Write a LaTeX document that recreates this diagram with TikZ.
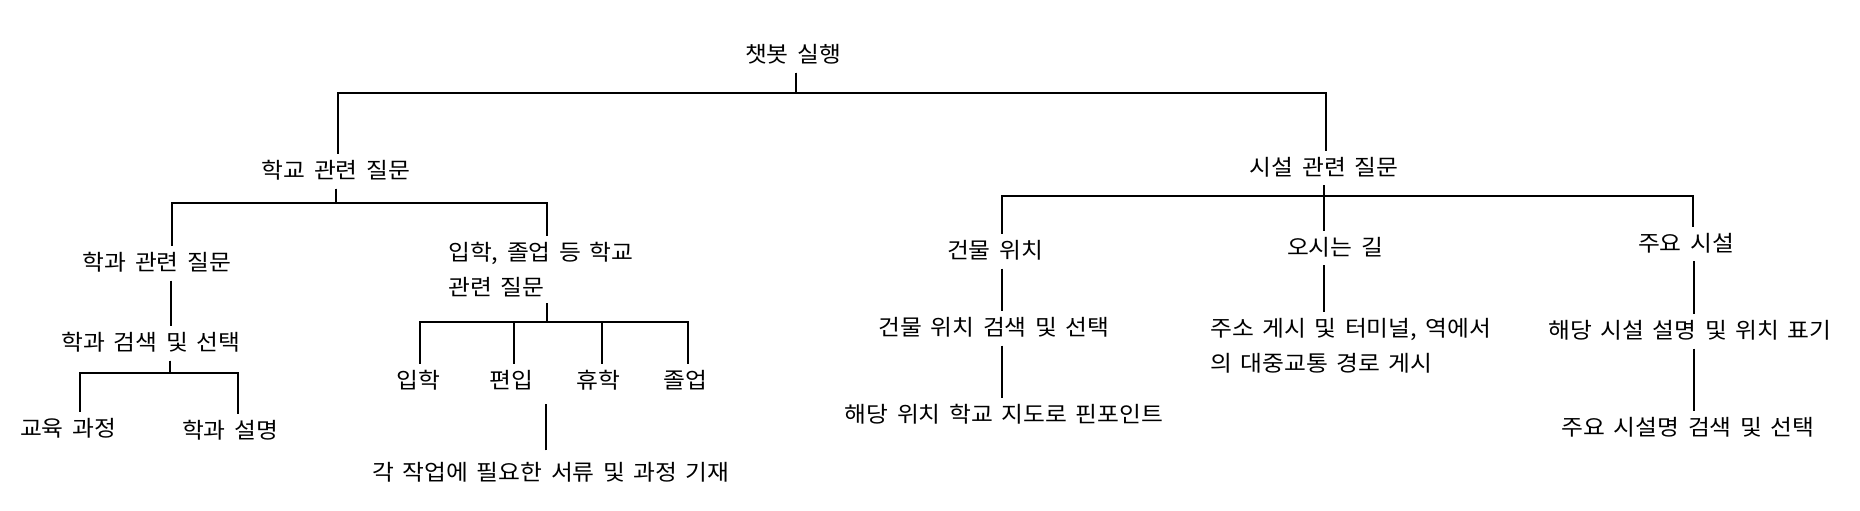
\documentclass[tikz,border=0pt]{standalone}
\usepackage{fontspec}
\setmainfont[WordSpace=1.6,FakeStretch=1.08]{Noto Sans CJK KR}
\begin{document}
\begin{tikzpicture}[x=1pt,y=-1pt,
    every node/.style={font=\fontsize{22}{35}\selectfont},
    item/.style={inner xsep=0pt,inner ysep=7pt,text height=17pt,text depth=3pt},
    multi/.style={align=left,inner xsep=0pt,inner ysep=6pt,anchor=north west}]
      \useasboundingbox (0,0) rectangle (1860,511);
      \node[item] (root) at (793,55.5) {챗봇 실행};
      \node[item] (school) at (336,171.5) {학교 관련 질문};
      \node[item] (facility) at (1324,168) {시설 관련 질문};
      \node[item] (dept) at (157,263.5) {학과 관련 질문};
      \node[multi] (admin) at (448,236) {입학, 졸업 등 학교\\관련 질문};
      \node[item] (deptsearch) at (151,343.5) {학과 검색 및 선택};
      \node[item] (curri) at (68,429.5) {교육 과정};
      \node[item] (deptdesc) at (230,431.5) {학과 설명};
      \node[item] (enter) at (418,381.5) {입학};
      \node[item] (transfer) at (511,381.5) {편입};
      \node[item] (leave) at (598,381.5) {휴학};
      \node[item] (grad) at (685,381.5) {졸업};
      \node[item] (docs) at (551,473.5) {각 작업에 필요한 서류 및 과정 기재};
      \node[item] (bldg) at (995,251.5) {건물 위치};
      \node[item] (route) at (1335,248) {오시는 길};
      \node[item] (major) at (1686,244) {주요 시설};
      \node[item] (bldgsearch) at (994,328.5) {건물 위치 검색 및 선택};
      \node[multi] (addr) at (1210,312) {주소 게시 및 터미널, 역에서\\의 대중교통 경로 게시};
      \node[item] (majordesc) at (1690,331.5) {해당 시설 설명 및 위치 표기};
      \node[item] (pin) at (1004,415) {해당 위치 학교 지도로 핀포인트};
      \node[item] (majorsearch) at (1688,428.5) {주요 시설명 검색 및 선택};
      \begin{scope}[line width=2pt]
        \draw ([xshift=3pt]root.south) -- ++(0,20.5) -| ([xshift=2pt]school.north);
        \draw ([xshift=3pt]root.south) -- ++(0,20.5) -| ([xshift=2pt]facility.north);
        \draw (school.south) -- ++(0,14.5) -| ([xshift=15pt]dept.north);
        \draw (school.south) -- ++(0,14.5) -| ([xshift=6pt]admin.north);
        \draw ([xshift=14pt]dept.south) -- ([xshift=14pt]dept.south |- deptsearch.north);
        \draw ([xshift=19pt]deptsearch.south) -- ++(0,12.5) -| ([xshift=12pt]curri.north);
        \draw ([xshift=19pt]deptsearch.south) -- ++(0,12.5) -| ([xshift=8pt]deptdesc.north);
        \draw ([xshift=6pt]admin.south) -- ++(0,19) -| ([xshift=2pt]enter.north);
        \draw ([xshift=6pt]admin.south) -- ++(0,19) -| ([xshift=3pt]transfer.north);
        \draw ([xshift=6pt]admin.south) -- ++(0,19) -| ([xshift=4pt]leave.north);
        \draw ([xshift=6pt]admin.south) -- ++(0,19) -| ([xshift=3pt]grad.north);
        \draw ([xshift=-5pt,yshift=6pt]docs.north) -- ([xshift=-5pt,yshift=-5.5pt]docs.north |- transfer.south);
        \draw (facility.south) -- ++(0,10.5) -| ([xshift=7pt]bldg.north);
        \draw (facility.south) -- ++(0,10.5) -| ([xshift=-11pt]route.north);
        \draw (facility.south) -- ++(0,10.5) -| ([xshift=7pt]major.north);
        \draw ([xshift=7pt]bldg.south) -- ([xshift=7pt]bldg.south |- bldgsearch.north);
        \draw ([xshift=8pt]bldgsearch.south) -- ([xshift=8pt]bldgsearch.south |- pin.north);
        \draw ([xshift=-11pt]route.south) -- ([xshift=-11pt]route.south |- addr.north);
        \draw ([xshift=8pt]major.south) -- ([xshift=8pt]major.south |- majordesc.north);
        \draw ([xshift=4pt]majordesc.south) -- ([xshift=4pt]majordesc.south |- majorsearch.north);
      \end{scope}
    \end{tikzpicture}
\end{document}
